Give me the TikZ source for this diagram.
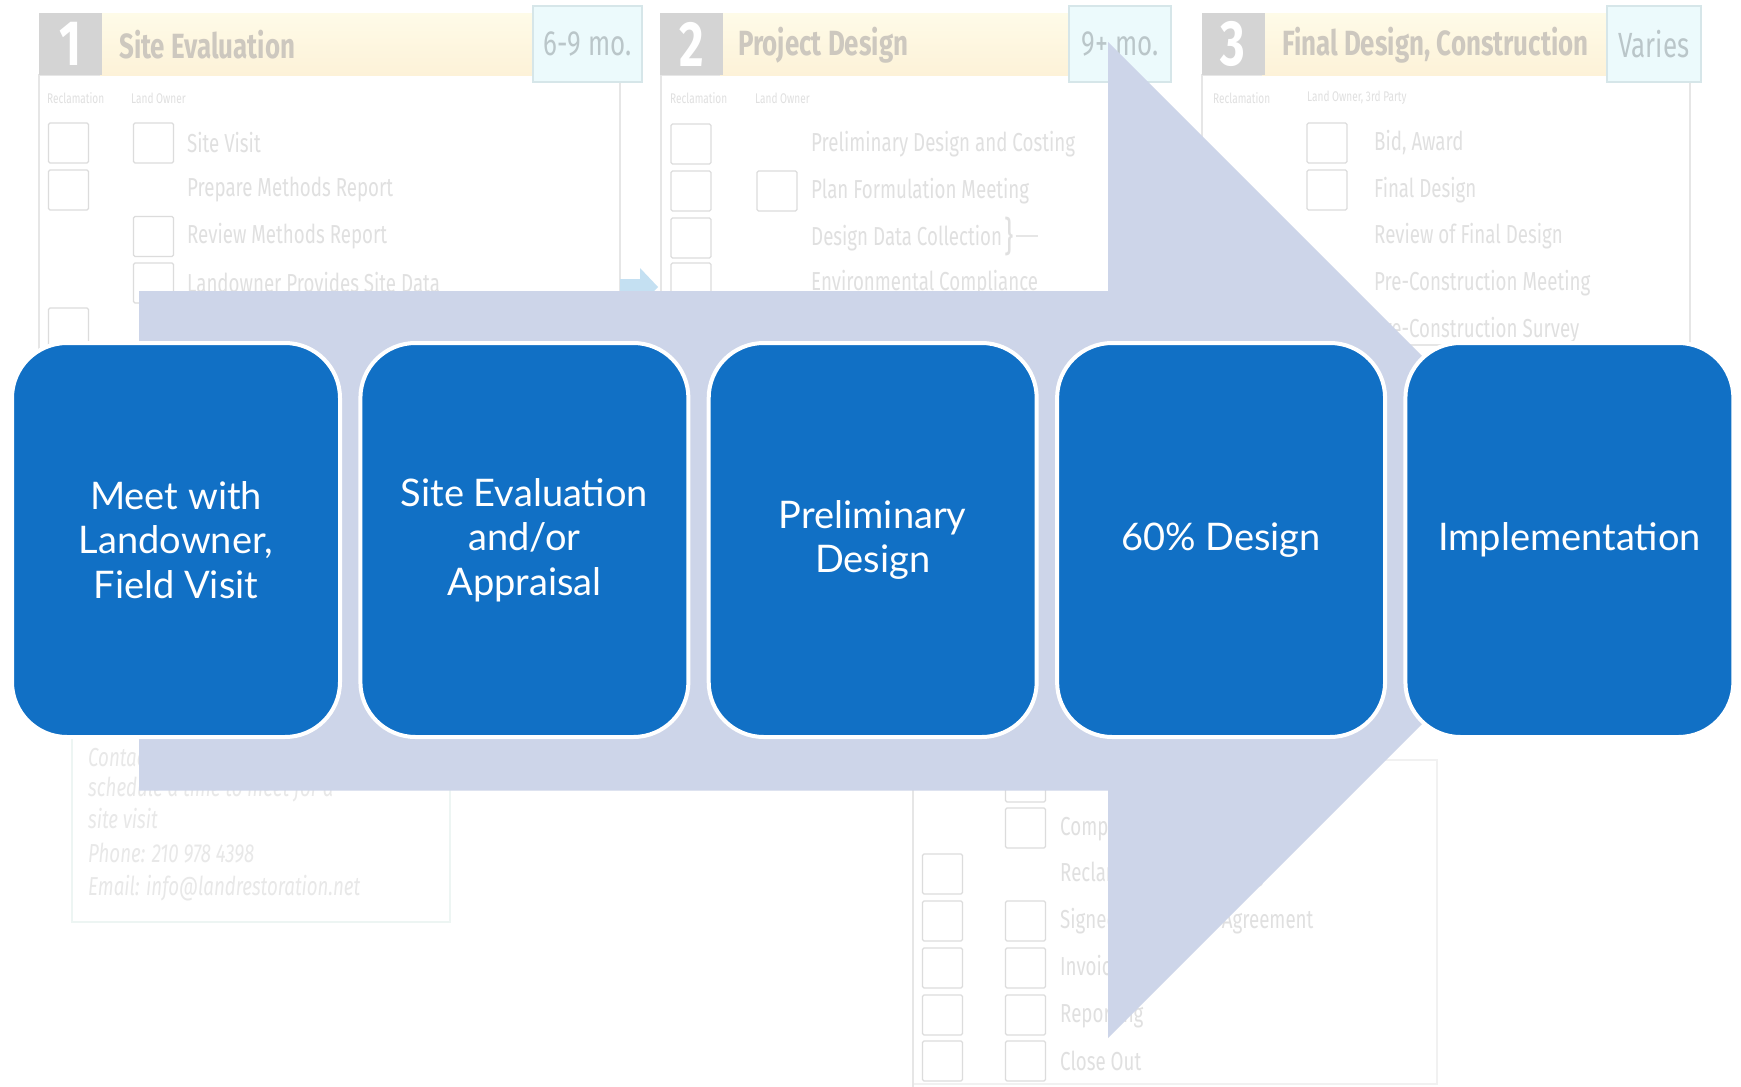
\documentclass[tikz,border=0pt]{standalone}
\usepackage{fontspec}
\newfontfamily\boxfont{Lato}
\newfontfamily\condfont[FakeStretch=0.72]{Fira Sans}
\newfontfamily\headfont[FakeStretch=0.74]{Fira Sans}
\definecolor{boxblue}{HTML}{1170C5}
\definecolor{arrowfill}{HTML}{CDD5E9}
\definecolor{fainttext}{HTML}{E0E0E0}
\definecolor{faintline}{HTML}{E6E6E6}
\definecolor{paleline}{HTML}{F1F1F1}
\definecolor{ckline}{HTML}{DCDCDC}
\definecolor{numgray}{HTML}{D4D4D4}
\definecolor{headyellowA}{HTML}{FEFBE8}
\definecolor{headyellowB}{HTML}{FDF2D8}
\definecolor{headtext}{HTML}{CDC8BF}
\definecolor{durfill}{HTML}{ECFAFC}
\definecolor{durline}{HTML}{D6E6E9}
\definecolor{durtext}{HTML}{BAC6C9}
\definecolor{smallarrow}{HTML}{C4E0F2}
\definecolor{notetext}{HTML}{E8E8E8}
\definecolor{noteline}{HTML}{EDF5F3}
\tikzset{
  stepbox/.style={rectangle, rounded corners=55pt, minimum width=328pt, minimum height=394pt,
    fill=boxblue, draw=white, line width=4pt, text=white, align=center, inner sep=0pt,
    font=\boxfont\fontsize{38}{44.5}\selectfont},
  ck/.style={rectangle, draw=ckline, line width=1.3pt, minimum size=40pt, inner sep=0pt, rounded corners=1.5pt},
  item/.style={anchor=west, inner sep=0pt, text=fainttext, font=\condfont\fontsize{26}{30}\selectfont},
  collabel/.style={anchor=west, inner sep=0pt, text=fainttext, font=\condfont\fontsize{14}{16}\selectfont},
  numbox/.style={rectangle, fill=numgray, minimum width=63pt, minimum height=62pt, inner sep=0pt,
    text=white, font=\headfont\bfseries\fontsize{64}{64}\selectfont},
  headbar/.style={rectangle, anchor=west, minimum height=62pt, inner sep=0pt, top color=headyellowA, bottom color=headyellowB},
  headtitle/.style={anchor=west, inner sep=0pt, text=headtext, font=\headfont\bfseries\fontsize{35}{35}\selectfont},
  durbox/.style={rectangle, fill=durfill, draw=durline, line width=1.5pt, minimum height=76pt, inner sep=0pt,
    text=durtext, font=\headfont\fontsize{35}{35}\selectfont},
  panel/.style={draw=faintline, line width=1.3pt},
  note/.style={anchor=west, inner sep=0pt, text=notetext, font=\condfont\itshape\fontsize{26}{30}\selectfont},
}
\begin{document}
\begin{tikzpicture}[x=1pt, y=-1pt]
\useasboundingbox (0,0) rectangle (1741,1087);
\fill[white] (0,0) rectangle (1741,1087);

% ---------- faded background form: panel 1 ----------
\draw[panel] (39,75) rectangle (620,700);
\node[headbar, minimum width=440pt] (y1) at (100,44) {};
\node[numbox] (n1) at (70.5,44) {1};
\node[headtitle] (t1) at (119,45) {Site Evaluation};
\node[durbox, minimum width=109pt] (d1) at (587.5,44) {6-9 mo.};
\node[collabel] (l1a) at (47,98) {Reclamation};
\node[collabel] (l1b) at (131,98) {Land Owner};
\node[ck] (c11a) at (68.5,143) {};
\node[ck] (c11b) at (153.5,143) {};
\node[item] (i11) at (187,143) {Site Visit};
\node[ck] (c12a) at (68.5,190) {};
\node[item] (i12) at (187,190) {Prepare Methods Report};
\node[ck] (c13b) at (153.5,236.5) {};
\node[item] (i13) at (187,236.5) {Review Methods Report};
\node[ck] (c14b) at (153.5,283) {};
\node[item] (i14) at (187,283) {Landowner Provides Site Data};
\node[ck] (c15a) at (68.5,328) {};
\fill[smallarrow] (620,279) -- (640,279) -- (640,268) -- (658,287) -- (640,306) -- (640,295) -- (620,295) -- cycle;

% ---------- panel 2 ----------
\draw[panel] (661,75) rectangle (1110,700);
\node[headbar, minimum width=350pt] (y2) at (720,44) {};
\node[numbox] (n2) at (691.5,44) {2};
\node[headtitle] (t2) at (738,45) {Project Design};
\node[durbox, minimum width=102pt] (d2) at (1120,44) {9+ mo.};
\node[collabel] (l2a) at (670,98) {Reclamation};
\node[collabel] (l2b) at (755,98) {Land Owner};
\node[ck] (c21a) at (691,144) {};
\node[item] (i21) at (811,144) {Preliminary Design and Costing};
\node[ck] (c22a) at (691,191) {};
\node[ck] (c22b) at (777,191) {};
\node[item] (i22) at (811,191) {Plan Formulation Meeting};
\node[ck] (c23a) at (691,238) {};
\node[item] (i23) at (811,238) {Design Data Collection};
\node[item, font=\condfont\fontsize{40}{40}\selectfont] (br23) at (1004,236) {\}};
\draw[faintline, line width=1.3pt] (br23.east) ++(2,0) -- ++(22,0);
\node[ck] (c24a) at (691,283) {};
\node[item] (i24) at (811,283) {Environmental Compliance};

% ---------- panel 3 ----------
\draw[panel] (1202,75) rectangle (1690,345);
\node[headbar, minimum width=350pt] (y3) at (1262,44) {};
\node[numbox] (n3) at (1233,44) {3};
\node[headtitle] (t3) at (1282,45) {Final Design, Construction};
\node[durbox, minimum width=94pt] (d3) at (1654,44) {Varies};
\node[collabel] (l3a) at (1213,98) {Reclamation};
\node[collabel] (l3b) at (1307,98) {Land Owner, 3rd Party};
\node[ck] (c31b) at (1327,143) {};
\node[item] (i31) at (1374,143) {Bid, Award};
\node[ck] (c32b) at (1327,190) {};
\node[item] (i32) at (1374,190) {Final Design};
\node[item] (i33) at (1374,236.5) {Review of Final Design};
\node[item] (i34) at (1374,283) {Pre-Construction Meeting};
\node[item] (i35) at (1374,330) {Pre-Construction Survey};

% ---------- lower panel ----------
\draw[paleline, line width=1.3pt] (913,760) rectangle (1437,1084);
\draw[panel] (913,760) -- (913,1087);
\node[ck] (c40b) at (1025.5,782) {};
\node[ck] (c41b) at (1025.5,828) {};
\node[item] (i41) at (1060,828) {Compliance Inspection};
\node[ck] (c42a) at (942.5,874) {};
\node[item] (i42) at (1060,874) {Reclamation Monitoring};
\node[ck] (c43a) at (942.5,921) {};
\node[ck] (c43b) at (1025.5,921) {};
\node[item] (i43) at (1060,921) {Signed Landowner Agreement};
\node[ck] (c44a) at (942.5,968) {};
\node[ck] (c44b) at (1025.5,968) {};
\node[item] (i44) at (1060,968) {Invoicing};
\node[ck] (c45a) at (942.5,1015) {};
\node[ck] (c45b) at (1025.5,1015) {};
\node[item] (i45) at (1060,1015) {Reporting};
\node[ck] (c46a) at (942.5,1061) {};
\node[ck] (c46b) at (1025.5,1061) {};
\node[item] (i46) at (1060,1061) {Close Out};

% ---------- lower-left note ----------
\draw[noteline, line width=1.3pt] (72,700) rectangle (450,922);
\node[note] (m1) at (88,758) {Contact us to};
\node[note] (m2) at (88,789) {schedule a time to meet for a};
\node[note] (m3) at (88,819) {site visit};
\node[note] (m4) at (88,853) {Phone: 210 978 4398};
\node[note] (m5) at (88,888) {Email: info@landrestoration.net};

% ---------- big arrow ----------
\fill[arrowfill] (139,291) -- (1108,291) -- (1108,42) -- (1606,540) -- (1108,1038) -- (1108,790.5) -- (139,790.5) -- cycle;

% ---------- steps ----------
\node[stepbox] (b1) at (176,540) {Meet with\\Landowner,\\Field Visit};
\node[stepbox] (b2) at (524.4,540) {Site Evaluation\\and/or\\Appraisal};
\node[stepbox] (b3) at (872.7,540) {Preliminary\\Design};
\node[stepbox] (b4) at (1221.1,540) {60\% Design};
\node[stepbox] (b5) at (1569.4,540) {Implementation};
\end{tikzpicture}
\end{document}
